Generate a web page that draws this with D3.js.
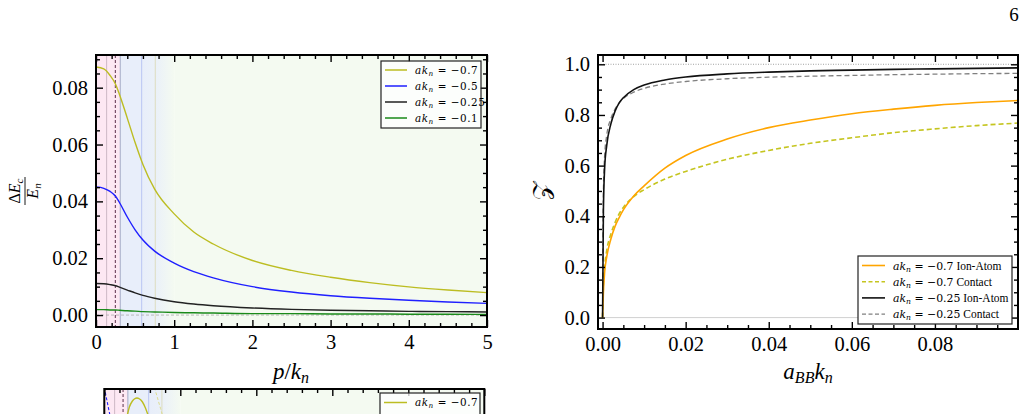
<!DOCTYPE html>
<html>
<head>
<meta charset="utf-8">
<script src="https://cdn.jsdelivr.net/npm/d3@7"></script>
<style>
  body { margin: 0; background: #fff; }
  svg { display: block; }
  text { font-family: "Liberation Serif", serif; fill: #000; }
</style>
</head>
<body>
<svg width="1026" height="414"></svg>
<script>
// ---- left panel data: Delta E_c / E_n vs p/k_n ----
var pVals  = [0, 0.1, 0.18, 0.25, 0.3, 0.4, 0.5, 0.6, 0.75, 1, 1.25, 1.5, 2, 2.5, 3, 3.5, 4, 4.5, 5];
var dE_07  = [0.0873, 0.0866, 0.0843, 0.0812, 0.0776, 0.0693, 0.0607, 0.0530, 0.0443, 0.0356, 0.0292, 0.0250, 0.0192, 0.0157, 0.0133, 0.0114, 0.0099, 0.0088, 0.0079];
var dE_05  = [0.0451, 0.0446, 0.0435, 0.0418, 0.0396, 0.0345, 0.0300, 0.0264, 0.0225, 0.0183, 0.0153, 0.0131, 0.0100, 0.0081, 0.0068, 0.0059, 0.0052, 0.0046, 0.0041];
var dE_025 = [0.0111, 0.0110, 0.0107, 0.0103, 0.0098, 0.0088, 0.0078, 0.0069, 0.0059, 0.0047, 0.0039, 0.0033, 0.0025, 0.0020, 0.0017, 0.0015, 0.0013, 0.0012, 0.0011];
var dE_01  = [0.0019, 0.0019, 0.0018, 0.0018, 0.0017, 0.0015, 0.0014, 0.0012, 0.0011, 0.0009, 0.0008, 0.0007, 0.0005, 0.0005, 0.0004, 0.0004, 0.0003, 0.0003, 0.0002];
var leftLabels = ["\u22120.7", "\u22120.5", "\u22120.25", "\u22120.1"];
var regionEdges = [0.31, 1.0];                       // pink | blue | green
var markerLines = [0.136, 0.247, 0.31, 0.584, 0.758];
var leftXTicks = [0, 1, 2, 3, 4, 5];
var leftYTicks = [0, 0.02, 0.04, 0.06, 0.08];

// ---- right panel data: Z vs a_BB k_n ----
var aBB       = [0, 0.0002, 0.0005, 0.001, 0.002, 0.003, 0.004, 0.005, 0.0075, 0.01, 0.015, 0.02, 0.03, 0.04, 0.05, 0.06, 0.07, 0.08, 0.09, 0.1];
var Z_07_ion  = [0, 0.10, 0.18, 0.24, 0.31, 0.36, 0.395, 0.425, 0.48, 0.52, 0.59, 0.64, 0.705, 0.75, 0.78, 0.805, 0.823, 0.838, 0.849, 0.857];
var Z_07_con  = [0, 0.13, 0.20, 0.265, 0.33, 0.375, 0.41, 0.435, 0.478, 0.505, 0.547, 0.577, 0.625, 0.66, 0.688, 0.71, 0.73, 0.745, 0.758, 0.768];
var Z_025_ion = [0, 0.42, 0.59, 0.68, 0.765, 0.815, 0.848, 0.868, 0.9, 0.918, 0.938, 0.95, 0.962, 0.969, 0.974, 0.977, 0.98, 0.982, 0.984, 0.986];
var Z_025_con = [0, 0.5, 0.64, 0.72, 0.785, 0.823, 0.848, 0.865, 0.89, 0.905, 0.922, 0.932, 0.943, 0.949, 0.953, 0.956, 0.959, 0.961, 0.963, 0.964];
var rightValues = ["\u22120.7", "\u22120.7", "\u22120.25", "\u22120.25"];
var rightKinds  = ["Ion-Atom", "Contact", "Ion-Atom", "Contact"];
var rightXTicks = [0, 0.02, 0.04, 0.06, 0.08];
var rightYTicks = [0, 0.2, 0.4, 0.6, 0.8, 1.0];

// ---- lower panel (cut off by the page edge) ----
var pArc   = [0.30, 0.33, 0.37, 0.40, 0.43, 0.46, 0.50, 0.54, 0.58];
var arcVal = [0.86, 0.92, 0.96, 0.975, 0.98, 0.975, 0.955, 0.915, 0.86];
var pBlue  = [0.0, 0.02, 0.04, 0.06, 0.08];
var blueVal = [1.05, 1.0, 0.95, 0.9, 0.85];
var pFaint = [0.66, 0.70, 0.74, 0.78];
var faintVal = [1.05, 0.98, 0.91, 0.84];

var svg = d3.select("svg");
var defs = svg.append("defs");
var tickFont = 20.5;

function zip(xs, ys) { return xs.map(function(x, i) { return [x, ys[i]]; }); }

// inward ticks on all four sides, done with d3 axes
function frameAxes(g, x, y, box, xMajor, xMinor, yMajor, yMinor, xFmt, yFmt, opts) {
  opts = opts || {};
  var sides = [];
  if (!opts.noBottom) {
    sides.push({ax: d3.axisBottom(x).tickValues(xMajor).tickSize(-7).tickPadding(7).tickFormat(xFmt), t: "translate(0," + box.y1 + ")"});
    sides.push({ax: d3.axisBottom(x).tickValues(xMinor).tickSize(-4).tickFormat(""), t: "translate(0," + box.y1 + ")"});
  }
  sides.push({ax: d3.axisTop(x).tickValues(xMajor).tickSize(-7).tickFormat(""), t: "translate(0," + box.y0 + ")"});
  sides.push({ax: d3.axisTop(x).tickValues(xMinor).tickSize(-4).tickFormat(""), t: "translate(0," + box.y0 + ")"});
  if (!opts.noY) {
    sides.push({ax: d3.axisLeft(y).tickValues(yMajor).tickSize(-7).tickPadding(8).tickFormat(yFmt), t: "translate(" + box.x0 + ",0)"});
    sides.push({ax: d3.axisLeft(y).tickValues(yMinor).tickSize(-4).tickFormat(""), t: "translate(" + box.x0 + ",0)"});
    sides.push({ax: d3.axisRight(y).tickValues(yMajor).tickSize(-7).tickFormat(""), t: "translate(" + box.x1 + ",0)"});
    sides.push({ax: d3.axisRight(y).tickValues(yMinor).tickSize(-4).tickFormat(""), t: "translate(" + box.x1 + ",0)"});
  }
  sides.forEach(function(s) {
    var a = g.append("g").attr("transform", s.t).call(s.ax);
    a.select(".domain").remove();
    a.attr("font-family", null).attr("font-size", null);
    a.selectAll("line").attr("stroke", "#000").attr("stroke-width", 1.4);
    a.selectAll("text").style("font-size", tickFont + "px").style("font-family", "'Liberation Serif', serif");
  });
  g.append("rect")
      .attr("x", box.x0).attr("y", box.y0)
      .attr("width", box.x1 - box.x0).attr("height", box.y1 - box.y0)
      .attr("fill", "none").attr("stroke", "#000").attr("stroke-width", 2);
}

// "a k_n = value [word]" legend text
function akText(g, x, y, size, value, word, spacing) {
  var t = g.append("text").attr("x", x).attr("y", y).style("font-size", size + "px");
  var m = t.append("tspan").style("font-family", "'DejaVu Serif', serif").style("font-style", "italic").text("ak");
  var s = t.append("tspan").style("font-family", "'DejaVu Serif', serif").style("font-style", "italic")
      .style("font-size", (size * 0.7) + "px").attr("dy", size * 0.22).text("n");
  var v = t.append("tspan").style("font-family", "'DejaVu Serif', serif").attr("dy", -size * 0.22).text(" = " + value);
  [m, s, v].forEach(function(ts) { ts.style("letter-spacing", spacing + "px"); });
  if (word) t.append("tspan").style("font-size", (size * 1.05) + "px").text(" " + word);
  return t;
}

function clipRect(id, box) {
  defs.append("clipPath").attr("id", id).append("rect")
      .attr("x", box.x0).attr("y", box.y0)
      .attr("width", box.x1 - box.x0).attr("height", box.y1 - box.y0);
}

// shaded p-regions + marker lines for the left-hand panels
function regions(g, x, box, gradId) {
  var grad = defs.append("linearGradient").attr("id", gradId)
      .attr("gradientUnits", "userSpaceOnUse")
      .attr("x1", x(0.6)).attr("x2", x(regionEdges[1])).attr("y1", 0).attr("y2", 0);
  grad.append("stop").attr("offset", "0%").attr("stop-color", "#e8eefa");
  grad.append("stop").attr("offset", "45%").attr("stop-color", "#ebf1f8");
  grad.append("stop").attr("offset", "100%").attr("stop-color", "#f4faf1");
  g.append("rect").attr("x", x(0)).attr("y", box.y0).attr("width", x(regionEdges[0]) - x(0))
      .attr("height", box.y1 - box.y0).attr("fill", "#fde8f3");
  g.append("rect").attr("x", x(regionEdges[0])).attr("y", box.y0).attr("width", x(regionEdges[1]) - x(regionEdges[0]))
      .attr("height", box.y1 - box.y0).attr("fill", "url(#" + gradId + ")");
  g.append("rect").attr("x", x(regionEdges[1])).attr("y", box.y0).attr("width", box.x1 - x(regionEdges[1]))
      .attr("height", box.y1 - box.y0).attr("fill", "#f4faf1");
  var lineCol = ["#cdb9c5", "#4a1a38", "#a3aac6", "#b9c5f2", "#dcdcc0"];
  markerLines.forEach(function(p, i) {
    g.append("line").attr("x1", x(p)).attr("x2", x(p)).attr("y1", box.y0).attr("y2", box.y1)
        .attr("stroke", lineCol[i]).attr("stroke-width", i === 1 ? 0.9 : 1)
        .attr("stroke-dasharray", i === 1 ? "3,2" : null);
  });
}

// ================= left panel =================
var boxL = {x0: 96, x1: 487, y0: 55, y1: 327};
var xL = d3.scaleLinear().domain([0, 5]).range([boxL.x0, boxL.x1]);
var yL = d3.scaleLinear().domain([-0.0042, 0.0915]).range([boxL.y1, boxL.y0]);
clipRect("clipL", boxL);
var gL = svg.append("g");
regions(gL, xL, boxL, "gradL");

gL.append("line").attr("x1", boxL.x0).attr("x2", boxL.x1).attr("y1", yL(0)).attr("y2", yL(0))
    .attr("stroke", "#aaa").attr("stroke-width", 0.8).attr("stroke-dasharray", "3,2");

var leftSeries = [dE_07, dE_05, dE_025, dE_01];
var leftColors = ["#bcbd22", "#1f1fff", "#222222", "#1a8a1a"];
var lineL = d3.line().x(function(d) { return xL(d[0]); }).y(function(d) { return yL(d[1]); }).curve(d3.curveMonotoneX);
var curvesL = gL.append("g").attr("clip-path", "url(#clipL)");
leftSeries.forEach(function(s, i) {
  curvesL.append("path").attr("d", lineL(zip(pVals, s)))
      .attr("fill", "none").attr("stroke", leftColors[i]).attr("stroke-width", 1.4);
});

var xMinorL = d3.range(0, 5.001, 0.2).filter(function(v) { return Math.abs(v - Math.round(v)) > 1e-6; });
var yMinorL = d3.range(-0.0, 0.0915, 0.005).filter(function(v) { return Math.abs(v / 0.02 - Math.round(v / 0.02)) > 1e-6; });
frameAxes(gL, xL, yL, boxL, leftXTicks, xMinorL, leftYTicks, yMinorL, d3.format("d"), d3.format(".2f"));

// legend
var legL = gL.append("g");
legL.append("rect").attr("x", 381).attr("y", 61).attr("width", 100).attr("height", 67)
    .attr("fill", "#fff").attr("fill-opacity", 0.75).attr("stroke", "#222").attr("stroke-width", 1.2);
leftLabels.forEach(function(lab, i) {
  var yy = 70 + i * 16;
  legL.append("line").attr("x1", 385).attr("x2", 407).attr("y1", yy).attr("y2", yy)
      .attr("stroke", leftColors[i]).attr("stroke-width", 1.5);
  akText(legL, 415, yy + 3.5, 10.4, lab, null, 0.55);
});

// axis labels
var yl = svg.append("g").attr("transform", "translate(25,191) rotate(-90)");
var num = yl.append("text").attr("x", 0).attr("y", -5).attr("text-anchor", "middle").style("font-size", "16px");
num.append("tspan").text("\u0394");
num.append("tspan").style("font-style", "italic").text("E");
num.append("tspan").style("font-style", "italic").style("font-size", "11px").attr("dy", 3).text("c");
yl.append("line").attr("x1", -14).attr("x2", 14).attr("y1", 0).attr("y2", 0).attr("stroke", "#000").attr("stroke-width", 0.9);
var den = yl.append("text").attr("x", 0).attr("y", 13).attr("text-anchor", "middle").style("font-size", "16px");
den.append("tspan").style("font-style", "italic").text("E");
den.append("tspan").style("font-style", "italic").style("font-size", "11px").attr("dy", 3).text("n");

var xlL = svg.append("text").attr("x", 291).attr("y", 379).attr("text-anchor", "middle").style("font-size", "23px");
xlL.append("tspan").style("font-style", "italic").text("p");
xlL.append("tspan").text("/");
xlL.append("tspan").style("font-style", "italic").text("k");
xlL.append("tspan").style("font-style", "italic").style("font-size", "16px").attr("dy", 4).text("n");

// ================= right panel =================
var boxR = {x0: 598, x1: 1018, y0: 55, y1: 329};
var xR = d3.scaleLinear().domain([-0.0011, 0.1]).range([boxR.x0, boxR.x1]);
var yR = d3.scaleLinear().domain([-0.045, 1.0367]).range([boxR.y1, boxR.y0]);
clipRect("clipR", boxR);
var gR = svg.append("g");
gR.append("line").attr("x1", boxR.x0).attr("x2", boxR.x1).attr("y1", yR(0)).attr("y2", yR(0))
    .attr("stroke", "#d0d0d0").attr("stroke-width", 1);
gR.append("line").attr("x1", boxR.x0).attr("x2", boxR.x1).attr("y1", yR(1)).attr("y2", yR(1))
    .attr("stroke", "#999").attr("stroke-width", 0.9).attr("stroke-dasharray", "1,1.5");

var rightSeries = [Z_07_ion, Z_07_con, Z_025_ion, Z_025_con];
var rightColors = ["#ffa500", "#c5c520", "#111111", "#808080"];
var rightDash = [null, "5,3", null, "5,3"];
var rightWidth = [1.6, 1.6, 1.6, 1.3];
var lineR = d3.line().x(function(d) { return xR(d[0]); }).y(function(d) { return yR(d[1]); }).curve(d3.curveMonotoneX);
var curvesR = gR.append("g").attr("clip-path", "url(#clipR)");
[3, 1, 0, 2].forEach(function(i) {
  curvesR.append("path").attr("d", lineR(zip(aBB, rightSeries[i])))
      .attr("fill", "none").attr("stroke", rightColors[i]).attr("stroke-width", rightWidth[i])
      .attr("stroke-dasharray", rightDash[i]);
});

var xMinorR = d3.range(0, 0.1001, 0.005).filter(function(v) { return Math.abs(v / 0.02 - Math.round(v / 0.02)) > 1e-6; });
var yMinorR = d3.range(0, 1.0367, 0.05).filter(function(v) { return Math.abs(v / 0.2 - Math.round(v / 0.2)) > 1e-6; });
frameAxes(gR, xR, yR, boxR, rightXTicks, xMinorR, rightYTicks, yMinorR, d3.format(".2f"), d3.format(".1f"));

var legR = gR.append("g");
legR.append("rect").attr("x", 858).attr("y", 256).attr("width", 154).attr("height", 68)
    .attr("fill", "#fff").attr("stroke", "#222").attr("stroke-width", 1.2);
rightValues.forEach(function(val, i) {
  var yy = 265.5 + i * 16.2;
  legR.append("line").attr("x1", 862).attr("x2", 885).attr("y1", yy).attr("y2", yy)
      .attr("stroke", rightColors[i]).attr("stroke-width", rightWidth[i])
      .attr("stroke-dasharray", rightDash[i] ? "4,2.5" : null);
  akText(legR, 893, yy + 4, 10.9, val, rightKinds[i], 0);
});

svg.append("text").attr("transform", "translate(549,191) rotate(-90)").attr("text-anchor", "middle")
    .style("font-size", "24px").text("\ud835\udcb5");

var xlR = svg.append("text").attr("x", 808).attr("y", 379).attr("text-anchor", "middle").style("font-size", "23px");
xlR.append("tspan").style("font-style", "italic").text("a");
xlR.append("tspan").style("font-style", "italic").style("font-size", "16px").attr("dy", 4).text("BB");
xlR.append("tspan").style("font-style", "italic").attr("dy", -4).text("k");
xlR.append("tspan").style("font-style", "italic").style("font-size", "16px").attr("dy", 4).text("n");

// page number
svg.append("text").attr("x", 1014).attr("y", 21).attr("text-anchor", "middle").style("font-size", "19px").text("6");

// ================= lower panel (partially visible) =================
var boxB = {x0: 104.3, x1: 484.3, y0: 389, y1: 700};
var xB = d3.scaleLinear().domain([0, 5]).range([boxB.x0, boxB.x1]);
var yB = d3.scaleLinear().domain([0, 1.04]).range([545, boxB.y0]);
clipRect("clipB", boxB);
var gB = svg.append("g");
regions(gB, xB, boxB, "gradB");
var lineB = d3.line().x(function(d) { return xB(d[0]); }).y(function(d) { return yB(d[1]); }).curve(d3.curveMonotoneX);
var curvesB = gB.append("g").attr("clip-path", "url(#clipB)");
curvesB.append("path").attr("d", lineB(zip(pArc, arcVal))).attr("fill", "none").attr("stroke", "#bcbd22").attr("stroke-width", 1.4);
curvesB.append("path").attr("d", lineB(zip(pBlue, blueVal))).attr("fill", "none").attr("stroke", "#1f1fff").attr("stroke-width", 1.1).attr("stroke-dasharray", "3,2");
curvesB.append("path").attr("d", lineB(zip(pFaint, faintVal))).attr("fill", "none").attr("stroke", "#dcdc90").attr("stroke-width", 1).attr("stroke-dasharray", "3,2");
frameAxes(gB, xB, yB, boxB, leftXTicks, xMinorL, [], [], d3.format("d"), d3.format(".2f"), {noBottom: true, noY: true});
var legB = gB.append("g");
legB.append("rect").attr("x", 380).attr("y", 393).attr("width", 100).attr("height", 60)
    .attr("fill", "#fff").attr("fill-opacity", 0.75).attr("stroke", "#222").attr("stroke-width", 1.2);
legB.append("line").attr("x1", 384).attr("x2", 407).attr("y1", 402.5).attr("y2", 402.5).attr("stroke", "#bcbd22").attr("stroke-width", 1.5);
akText(legB, 415, 406, 10.4, leftLabels[0], null, 0.55);
</script>
</body>
</html>
